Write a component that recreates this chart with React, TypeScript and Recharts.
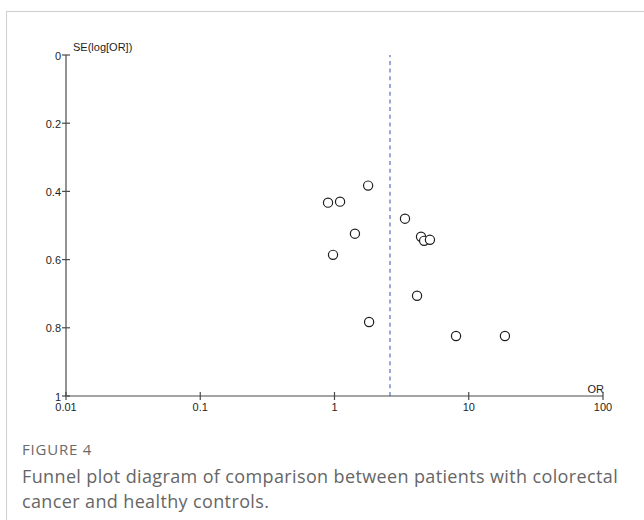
import React from 'react';
import { ScatterChart, Scatter, XAxis, YAxis, ReferenceLine, Label } from 'recharts';

// Study odds ratios and standard errors of log(OR)
const studyOR = [1.78, 0.895, 1.10, 1.42, 0.975, 3.35, 4.41, 4.65, 5.14, 4.12, 1.81, 8.04, 18.6];
const studySE = [0.383, 0.433, 0.430, 0.524, 0.586, 0.480, 0.533, 0.545, 0.542, 0.706, 0.783, 0.824, 0.824];
const pooledOR = 2.59;
const xTicks = [0.01, 0.1, 1, 10, 100];
const yTicks = [0, 0.2, 0.4, 0.6, 0.8, 1];
const xTickLabels = ['0.01', '0.1', '1', '10', '100'];
const yTickLabels = ['0', '0.2', '0.4', '0.6', '0.8', '1'];

const data = studyOR.map((or, i) => ({ or, se: studySE[i] }));

const AXIS_COLOR = '#4a4a4a';
const TEXT_COLOR = '#1e1e1e';
const FONT = 'Liberation Sans, Arial, sans-serif';

const XTick = (props: any) => {
  const { x, y, payload } = props;
  const idx = xTicks.indexOf(payload.value);
  const label = idx >= 0 ? xTickLabels[idx] : String(payload.value);
  return (
    <g>
      <line x1={x} x2={x} y1={y - 4} y2={y + 4} stroke={AXIS_COLOR} strokeWidth={1.2} />
      <text x={x} y={y + 15} textAnchor="middle" fontSize={11} fill={TEXT_COLOR} fontFamily={FONT}>
        {label}
      </text>
    </g>
  );
};

const YTick = (props: any) => {
  const { x, y, payload } = props;
  const idx = yTicks.indexOf(payload.value);
  const label = idx >= 0 ? yTickLabels[idx] : String(payload.value);
  return (
    <g>
      <line x1={x - 4} x2={x + 4} y1={y} y2={y} stroke={AXIS_COLOR} strokeWidth={1.2} />
      <text x={x - 5} y={y + 4.5} textAnchor="end" fontSize={11} fill={TEXT_COLOR} fontFamily={FONT}>
        {label}
      </text>
    </g>
  );
};

const Ring = (props: any) => {
  const { cx, cy } = props;
  return <circle cx={cx} cy={cy} r={4.6} fill="#ffffff" stroke="#1e1e1e" strokeWidth={1.2} />;
};

export default function App() {
  return (
    <div style={{ position: 'absolute', left: 0, top: 0, width: 644, height: 520, overflow: 'hidden', background: '#fff' }}>
      <div
        style={{
          position: 'absolute',
          left: 6,
          top: 11,
          width: 700,
          height: 600,
          border: '1px solid #cfcfcf',
          boxSizing: 'border-box',
        }}
      />
      <div style={{ position: 'absolute', left: 0, top: 0 }}>
        <ScatterChart width={644} height={420} margin={{ top: 55, right: 41, left: 26, bottom: 4 }}>
          <XAxis
            type="number"
            dataKey="or"
            scale="log"
            domain={[0.01, 100]}
            ticks={xTicks}
            interval={0}
            allowDataOverflow
            height={20}
            tickSize={0}
            tickMargin={0}
            tickLine={false}
            tick={<XTick />}
            axisLine={{ stroke: AXIS_COLOR, strokeWidth: 1.2 }}
          >
            <Label
              content={(p: any) => {
                const vb = p.viewBox;
                return (
                  <text x={vb.x + vb.width + 1} y={vb.y - 3} textAnchor="end" fontSize={11} fill={TEXT_COLOR} fontFamily={FONT}>
                    OR
                  </text>
                );
              }}
            />
          </XAxis>
          <YAxis
            type="number"
            dataKey="se"
            reversed
            domain={[0, 1]}
            ticks={yTicks}
            interval={0}
            width={40}
            tickSize={0}
            tickMargin={0}
            tickLine={false}
            tick={<YTick />}
            axisLine={{ stroke: AXIS_COLOR, strokeWidth: 1.2 }}
          >
            <Label
              content={(p: any) => {
                const vb = p.viewBox;
                return (
                  <text x={vb.x + vb.width + 7} y={vb.y - 4} textAnchor="start" fontSize={11} fill={TEXT_COLOR} fontFamily={FONT}>
                    SE(log[OR])
                  </text>
                );
              }}
            />
          </YAxis>
          <ReferenceLine x={pooledOR} stroke="#9ca6d8" strokeWidth={2} strokeDasharray="4 3.7" ifOverflow="extendDomain" />
          <Scatter data={data} shape={<Ring />} isAnimationActive={false} />
        </ScatterChart>
      </div>
      <div
        style={{
          position: 'absolute',
          left: 22,
          top: 441,
          fontFamily: '"Open Sans", sans-serif',
          fontSize: 15,
          color: '#6a6a6a',
          lineHeight: '16px',
          letterSpacing: 0.8,
        }}
      >
        FIGURE 4
      </div>
      <div
        style={{
          position: 'absolute',
          left: 22,
          top: 464,
          width: 640,
          whiteSpace: 'nowrap',
          fontFamily: '"Open Sans", sans-serif',
          fontSize: 18,
          color: '#666666',
          lineHeight: '25px',
          letterSpacing: 0.37,
        }}
      >
        Funnel plot diagram of comparison between patients with colorectal
        <br />
        cancer and healthy controls.
      </div>
    </div>
  );
}
